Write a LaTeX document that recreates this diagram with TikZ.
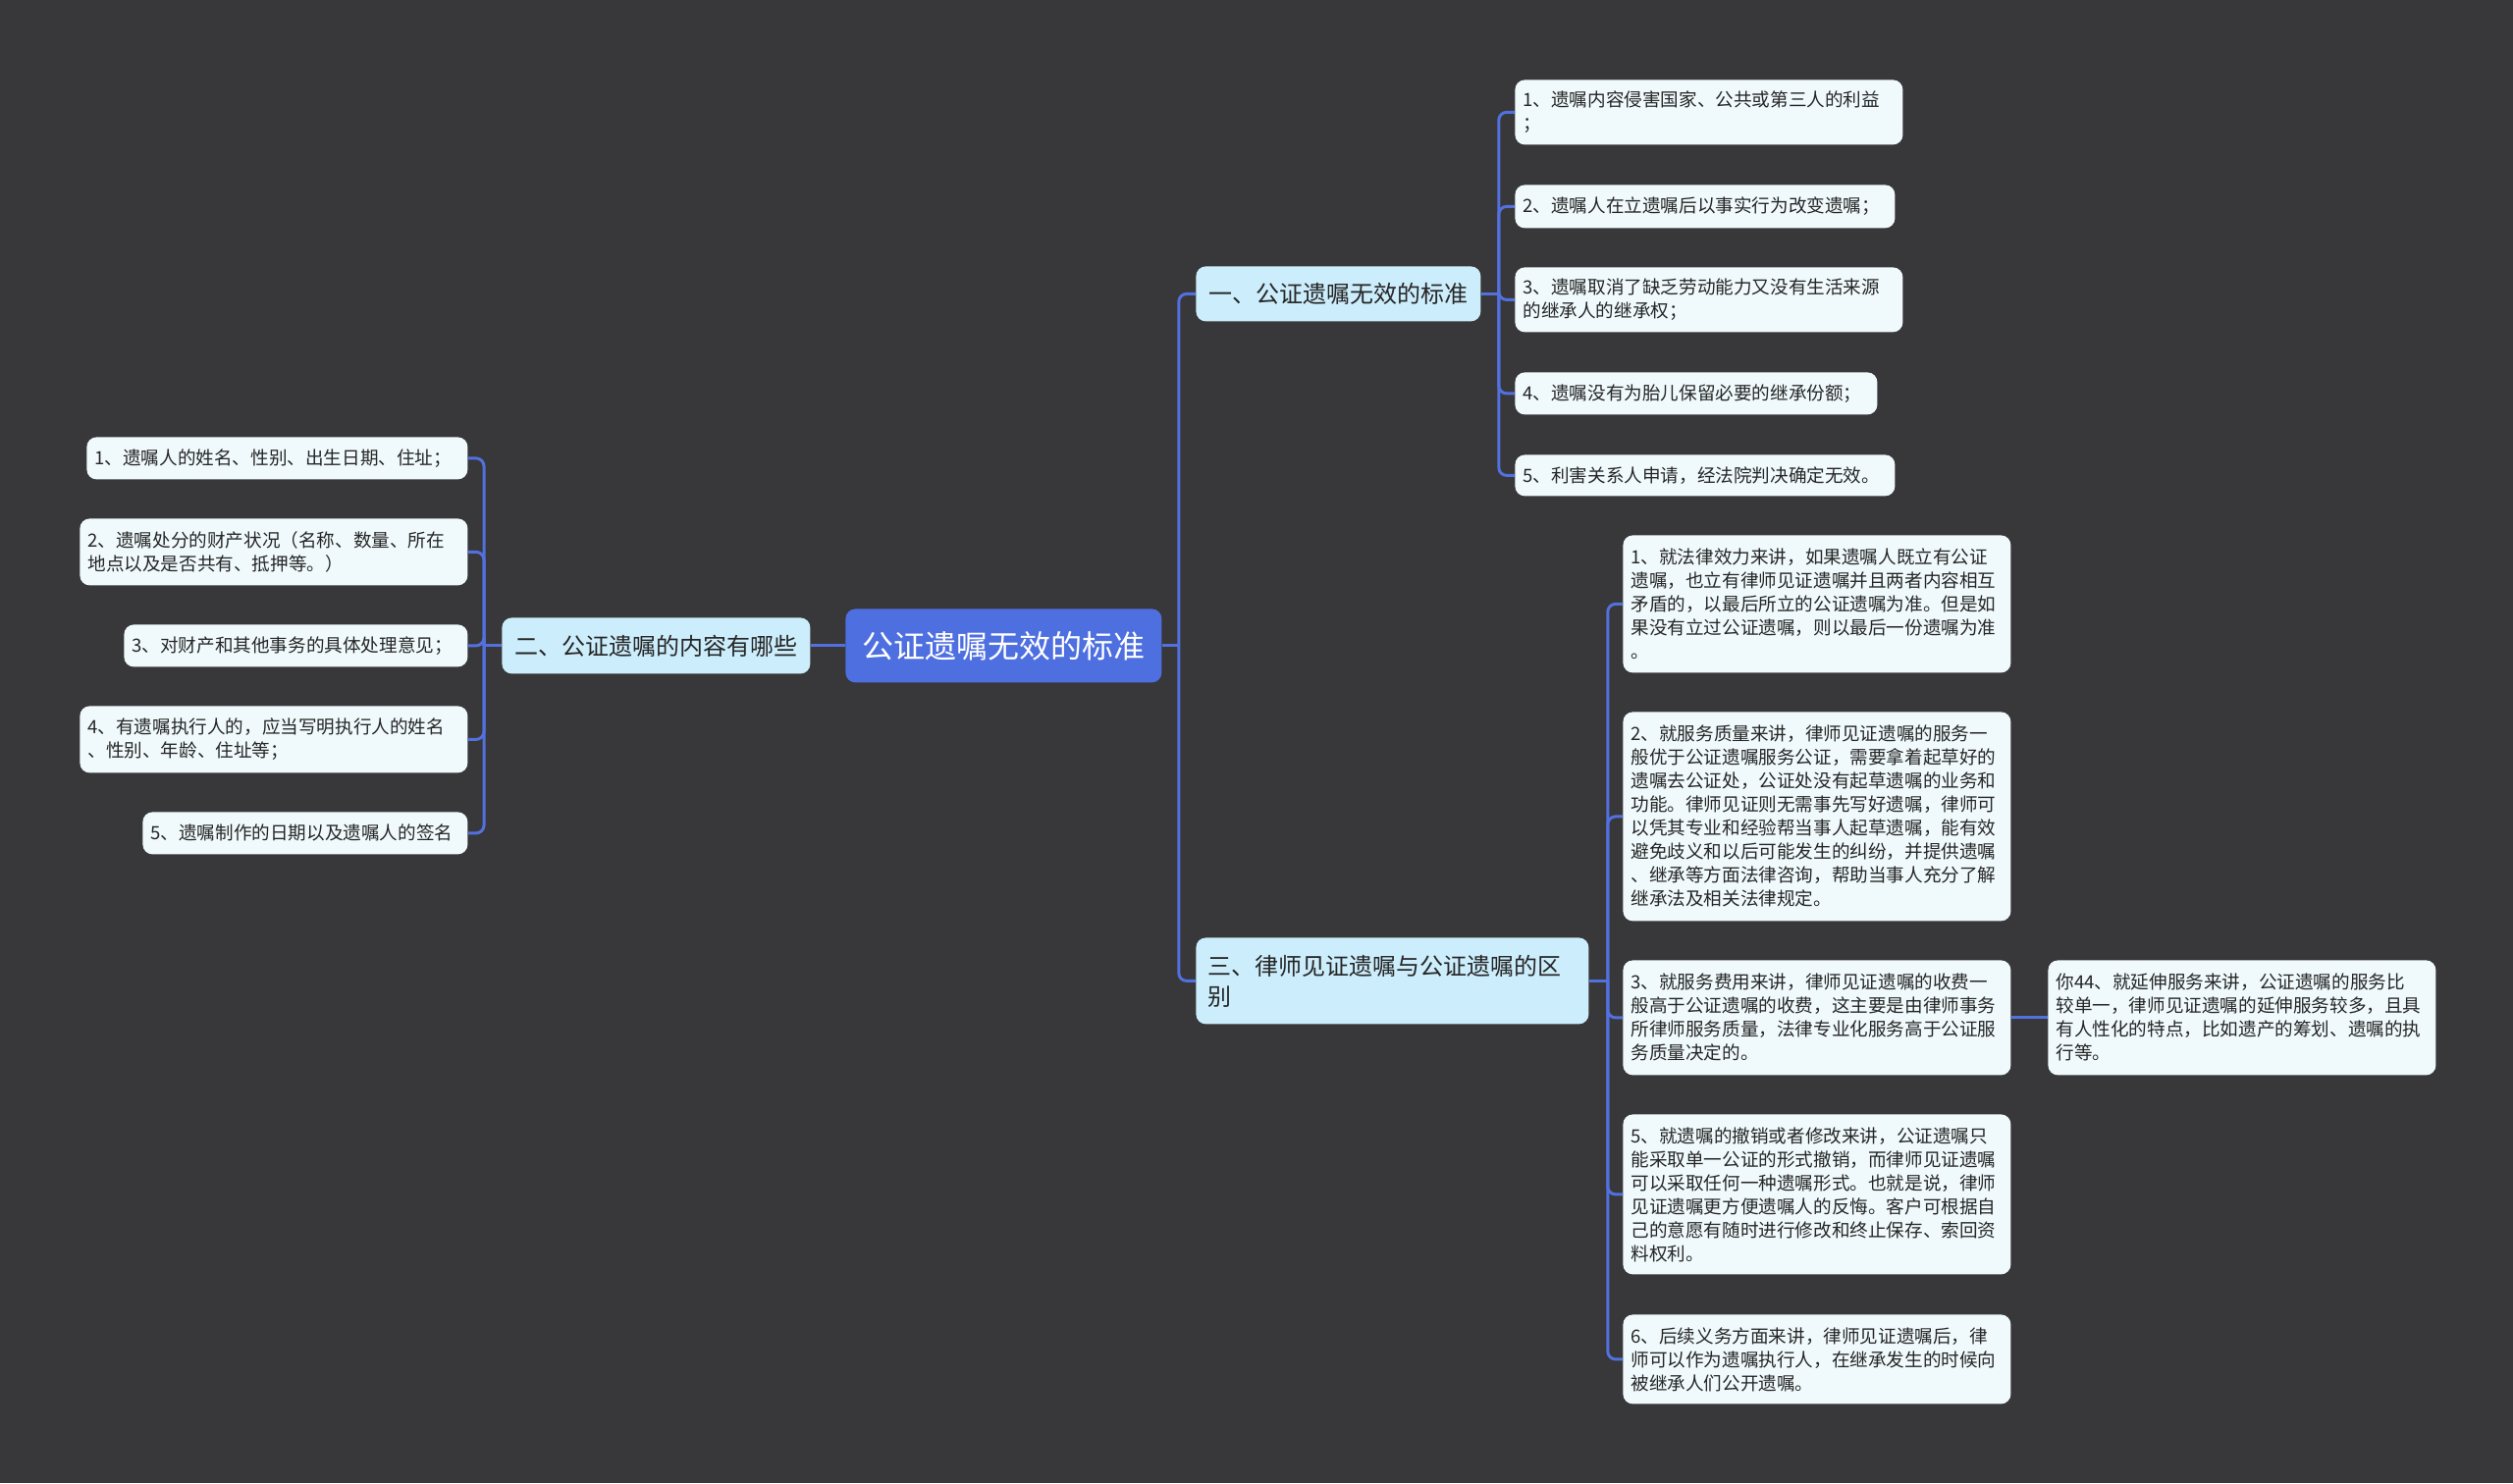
\documentclass[tikz,border=0pt]{standalone}
\usepackage{fontspec}
\setmainfont{Noto Sans CJK SC}
\definecolor{bgc}{RGB}{56,55,57}
\definecolor{linec}{RGB}{82,112,222}
\definecolor{rootc}{RGB}{78,111,224}
\definecolor{topicc}{RGB}{204,237,251}
\definecolor{leafc}{RGB}{240,250,252}

\begin{document}
\begin{tikzpicture}[x=0.5pt, y=-0.5pt,
    link/.style={draw=linec, line width=1.5pt, rounded corners=4pt},
    rootbox/.style={fill=rootc, text=white, rounded corners=5pt, anchor=north west,
      minimum width=161pt, minimum height=37.5pt, font=\fontsize{16}{19}\selectfont},
    topic/.style={fill=topicc, text=black!85, rounded corners=5pt, anchor=north west,
      inner xsep=6pt, font=\fontsize{12}{15}\selectfont},
    leaf/.style={fill=leafc, text=black!85, rounded corners=5pt, anchor=north west,
      align=left, inner xsep=4pt, inner ysep=0pt, font=\fontsize{9.3}{12}\selectfont}]
    \fill[bgc] (0,0) rectangle (2560,1511);
    \useasboundingbox (0,0) rectangle (2560,1511);

    % centre and main topics
    \node[rootbox] (root) at (861,620) {公证遗嘱无效的标准};
    \node[topic, minimum width=145pt, minimum height=28pt] (n1) at (1218,271) {一、公证遗嘱无效的标准};
    \node[topic, minimum width=157pt, minimum height=28.5pt] (n2) at (511,629) {二、公证遗嘱的内容有哪些};
    \node[topic, align=left, text width=188pt, minimum height=44pt,
      font=\fontsize{12}{15.5}\selectfont] (n3) at (1218,955) {三、律师见证遗嘱与公证遗嘱的区\\别};

    % leaves of n1
    \node[leaf, text width=189.5pt, minimum height=33pt] (a1) at (1543,81) {1、遗嘱内容侵害国家、公共或第三人的利益\\；};
    \node[leaf, text width=185.5pt, minimum height=22pt] (a2) at (1543,188) {2、遗嘱人在立遗嘱后以事实行为改变遗嘱；};
    \node[leaf, text width=189.5pt, minimum height=33pt] (a3) at (1543,272) {3、遗嘱取消了缺乏劳动能力又没有生活来源\\的继承人的继承权；};
    \node[leaf, text width=176.5pt, minimum height=21.5pt] (a4) at (1543,379) {4、遗嘱没有为胎儿保留必要的继承份额；};
    \node[leaf, text width=185.5pt, minimum height=21pt] (a5) at (1543,463) {5、利害关系人申请，经法院判决确定无效。};

    % leaves of n2
    \node[leaf, text width=186pt, minimum height=21.5pt] (b1) at (88,445) {1、遗嘱人的姓名、性别、出生日期、住址；};
    \node[leaf, text width=189.5pt, minimum height=34pt] (b2) at (81,528) {2、遗嘱处分的财产状况（名称、数量、所在\\地点以及是否共有、抵押等。）};
    \node[leaf, text width=167pt, minimum height=21.5pt] (b3) at (126,636) {3、对财产和其他事务的具体处理意见；};
    \node[leaf, text width=189.5pt, minimum height=34pt] (b4) at (81,719) {4、有遗嘱执行人的，应当写明执行人的姓名\\、性别、年龄、住址等；};
    \node[leaf, text width=157.5pt, minimum height=21.5pt] (b5) at (145,827) {5、遗嘱制作的日期以及遗嘱人的签名};

    % leaves of n3
    \node[leaf, text width=189.5pt, minimum height=70pt] (c1) at (1653,545) {1、就法律效力来讲，如果遗嘱人既立有公证\\遗嘱，也立有律师见证遗嘱并且两者内容相互\\矛盾的，以最后所立的公证遗嘱为准。但是如\\果没有立过公证遗嘱，则以最后一份遗嘱为准\\。};
    \node[leaf, text width=189.5pt, minimum height=106.5pt] (c2) at (1653,725) {2、就服务质量来讲，律师见证遗嘱的服务一\\般优于公证遗嘱服务公证，需要拿着起草好的\\遗嘱去公证处，公证处没有起草遗嘱的业务和\\功能。律师见证则无需事先写好遗嘱，律师可\\以凭其专业和经验帮当事人起草遗嘱，能有效\\避免歧义和以后可能发生的纠纷，并提供遗嘱\\、继承等方面法律咨询，帮助当事人充分了解\\继承法及相关法律规定。};
    \node[leaf, text width=189.5pt, minimum height=58.5pt] (c3) at (1653,978) {3、就服务费用来讲，律师见证遗嘱的收费一\\般高于公证遗嘱的收费，这主要是由律师事务\\所律师服务质量，法律专业化服务高于公证服\\务质量决定的。};
    \node[leaf, text width=189.5pt, minimum height=58.5pt] (c4) at (2086,978) {你44、就延伸服务来讲，公证遗嘱的服务比\\较单一，律师见证遗嘱的延伸服务较多，且具\\有人性化的特点，比如遗产的筹划、遗嘱的执\\行等。};
    \node[leaf, text width=189.5pt, minimum height=81.5pt] (c5) at (1653,1135) {5、就遗嘱的撤销或者修改来讲，公证遗嘱只\\能采取单一公证的形式撤销，而律师见证遗嘱\\可以采取任何一种遗嘱形式。也就是说，律师\\见证遗嘱更方便遗嘱人的反悔。客户可根据自\\己的意愿有随时进行修改和终止保存、索回资\\料权利。};
    \node[leaf, text width=189.5pt, minimum height=45.5pt] (c6) at (1653,1339) {6、后续义务方面来讲，律师见证遗嘱后，律\\师可以作为遗嘱执行人，在继承发生的时候向\\被继承人们公开遗嘱。};

    % connectors
    \draw[link] (root.west) -- (n2.east);
    \draw[link] (root.east) -- ++(17,0) coordinate (t0);
    \foreach \k in {n1,n3}
      \draw[link] (t0) |- (\k.west);
    \draw[link] (n1.east) -- ++(18,0) coordinate (t1);
    \foreach \k in {a1,a2,a3,a4,a5}
      \draw[link] (t1) |- (\k.west);
    \draw[link] (n2.west) -- ++(-18,0) coordinate (t2);
    \foreach \k in {b1,b2,b3,b4,b5}
      \draw[link] (t2) |- (\k.east);
    \draw[link] (n3.east) -- ++(19,0) coordinate (t3);
    \foreach \k in {c1,c2,c3,c5,c6}
      \draw[link] (t3) |- (\k.west);
    \draw[link] (c3.east) -- (c4.west);
\end{tikzpicture}
\end{document}
